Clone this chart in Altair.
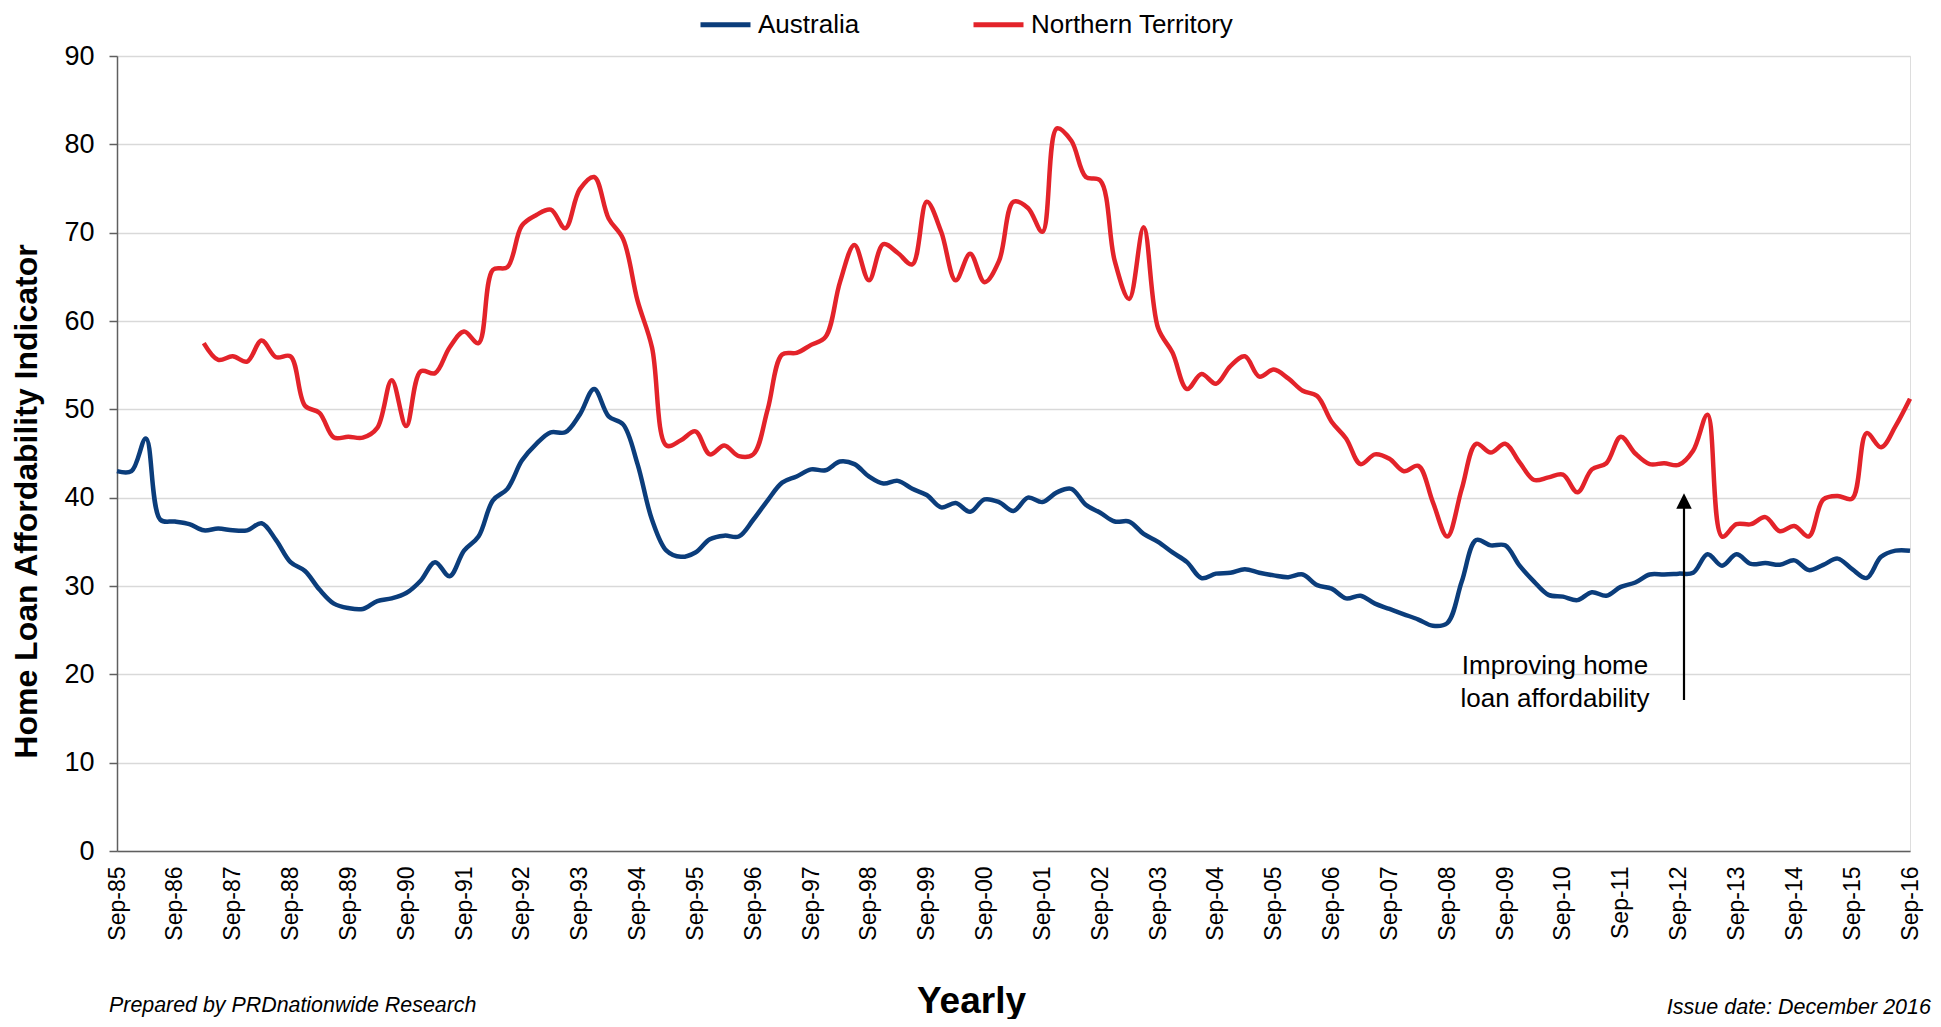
import altair as alt
import pandas as pd

# ---------------- data ----------------
series_names = ["Australia", "Northern Territory"]
series_colors = ["#0B3D7B", "#E3232A"]

tick_labels = ["Sep-85", "Sep-86", "Sep-87", "Sep-88", "Sep-89", "Sep-90", "Sep-91", "Sep-92",
               "Sep-93", "Sep-94", "Sep-95", "Sep-96", "Sep-97", "Sep-98", "Sep-99", "Sep-00",
               "Sep-01", "Sep-02", "Sep-03", "Sep-04", "Sep-05", "Sep-06", "Sep-07", "Sep-08",
               "Sep-09", "Sep-10", "Sep-11", "Sep-12", "Sep-13", "Sep-14", "Sep-15", "Sep-16"]

# quarterly values, Sep-85 .. Sep-16
australia = [
    43.0, 43.0, 46.7, 37.5, 37.3, 37.0, 36.3, 36.5, 36.3, 36.3,
    37.1, 35.2, 32.7, 31.7, 29.6, 28.0, 27.5, 27.4, 28.3, 28.6,
    29.2, 30.6, 32.7, 31.1, 34.0, 35.6, 39.7, 41.0, 44.2, 46.1,
    47.4, 47.4, 49.4, 52.3, 49.2, 48.3, 43.8, 37.5, 34.0, 33.3,
    33.8, 35.3, 35.7, 35.6, 37.5, 39.7, 41.7, 42.4, 43.2, 43.1,
    44.1, 43.8, 42.4, 41.6, 41.9, 41.0, 40.3, 38.9, 39.4, 38.4,
    39.8, 39.5, 38.5, 40.0, 39.5, 40.6, 41.0, 39.2, 38.3, 37.3,
    37.3, 35.9, 35.0, 33.8, 32.7, 30.9, 31.4, 31.5, 31.9, 31.5,
    31.2, 31.0, 31.3, 30.1, 29.7, 28.6, 28.9, 28.0, 27.4, 26.8,
    26.2, 25.5, 25.8, 30.5, 35.2, 34.6, 34.6, 32.3, 30.5, 29.0,
    28.8, 28.4, 29.3, 28.9, 29.9, 30.4, 31.3, 31.3, 31.4, 31.5,
    33.6, 32.3, 33.6, 32.5, 32.6, 32.4, 32.9, 31.8, 32.4, 33.1,
    31.9, 30.9, 33.3, 34.0, 34.0,
]

# quarterly values, Mar-87 .. Sep-16
nt_start_quarter = 6
northern_territory = [
    57.5, 55.6, 56.0, 55.4, 57.8, 55.9, 56.0, 50.4, 49.6, 46.8,
    46.9, 46.8, 47.9, 53.3, 48.1, 54.3, 54.1, 57.0, 58.8, 57.5,
    65.8, 66.1, 70.8, 72.0, 72.6, 70.5, 74.9, 76.3, 71.6, 69.3,
    62.3, 57.0, 45.9, 46.5, 47.5, 44.9, 45.9, 44.7, 44.9, 50.0,
    56.2, 56.4, 57.3, 58.2, 64.4, 68.6, 64.6, 68.7, 67.7, 66.4,
    73.5, 70.1, 64.6, 67.6, 64.4, 66.8, 73.5, 72.8, 70.1, 81.8,
    80.4, 76.3, 75.9, 66.8, 62.5, 70.6, 59.2, 56.4, 52.3, 54.0,
    52.9, 54.9, 56.0, 53.7, 54.5, 53.5, 52.1, 51.5, 48.6, 46.7,
    43.8, 44.9, 44.4, 43.0, 43.6, 39.5, 35.6, 41.0, 46.1, 45.1,
    46.1, 44.0, 42.0, 42.3, 42.6, 40.6, 43.2, 43.9, 46.9, 45.0,
    43.8, 43.9, 43.7, 45.3, 49.4, 35.6, 37.0, 37.0, 37.8, 36.2,
    36.8, 35.6, 39.8, 40.2, 39.9, 47.3, 45.7, 48.1, 51.2,
]

y_title = "Home Loan Affordability Indicator"
x_title = "Yearly"
annotation_lines = ["Improving home", "loan affordability"]
footer_left = ["Prepared by PRDnationwide Research", "Source: Real Estate Institute of Australia"]
footer_right = "Issue date: December 2016"

# ---------------- table ----------------
rows = []
for i, v in enumerate(australia):
    rows.append({"q": i, "series": series_names[0], "value": v})
for i, v in enumerate(northern_territory):
    rows.append({"q": i + nt_start_quarter, "series": series_names[1], "value": v})
df = pd.DataFrame(rows)
n_q = len(australia) - 1

FONT = "Liberation Sans"
W, H = 1793, 795
AXIS_COL = "#5F5F5F"

label_expr = "[" + ",".join("'%s'" % t for t in tick_labels) + "][round(datum.value / 4)]"

x_enc = alt.X(
    "q:Q",
    scale=alt.Scale(domain=[0, n_q], nice=False, zero=False),
    axis=alt.Axis(
        values=list(range(0, n_q + 1, 4)),
        labelExpr=label_expr,
        labelAngle=270,
        labelFontSize=23,
        labelPadding=15,
        labelColor="#000000",
        labelFont=FONT,
        ticks=False,
        grid=False,
        domainColor=AXIS_COL,
        domainWidth=1.5,
        title=x_title,
        titleFont=FONT,
        titleFontSize=37,
        titleFontWeight="bold",
        titleColor="#000000",
        titleX=854,
        titleY=161,
        titleAlign="center",
        titleBaseline="alphabetic",
    ),
)

y_enc = alt.Y(
    "value:Q",
    scale=alt.Scale(domain=[0, 90], nice=False, zero=True),
    axis=alt.Axis(
        values=list(range(0, 91, 10)),
        labelFontSize=27,
        labelPadding=15,
        labelColor="#000000",
        labelFont=FONT,
        tickSize=8,
        tickColor=AXIS_COL,
        tickWidth=1.5,
        domainColor=AXIS_COL,
        domainWidth=1.5,
        gridColor="#D9D9D9",
        gridWidth=1.5,
        title=y_title,
        titleFont=FONT,
        titleFontSize=32,
        titleFontWeight="bold",
        titleColor="#000000",
        titleX=-91,
        titleY=445,
        titleAngle=270,
        titleAlign="center",
        titleBaseline="middle",
    ),
)

lines = alt.Chart(df).mark_line(strokeWidth=4.5, interpolate="catmull-rom").encode(
    x=x_enc,
    y=y_enc,
    color=alt.Color(
        "series:N",
        scale=alt.Scale(domain=series_names, range=series_colors),
        legend=alt.Legend(
            orient="none",
            legendX=581,
            legendY=-59,
            direction="horizontal",
            title=None,
            symbolType="stroke",
            symbolStrokeWidth=5,
            symbolSize=2500,
            labelFontSize=26,
            labelFont=FONT,
            labelColor="#000000",
            labelLimit=0,
            labelOffset=5,
            columnPadding=103,
        ),
    ),
    order="q:Q",
)

one = pd.DataFrame({"k": [0]})

arrow_line = alt.Chart(one).mark_rule(color="#000000", strokeWidth=2.2).encode(
    x=alt.value(1567), y=alt.value(644), y2=alt.value(452)
)
arrow_head = alt.Chart(one).mark_point(
    shape="M -1 1 L 0 -1 L 1 1 Z", filled=True, color="#000000", opacity=1, size=240
).encode(x=alt.value(1567), y=alt.value(445))

annotation = alt.Chart(one).mark_text(
    font=FONT, fontSize=26, align="center", baseline="alphabetic", lineHeight=33, color="#000000"
).encode(x=alt.value(1438), y=alt.value(618), text=alt.value(annotation_lines))

foot_l = alt.Chart(one).mark_text(
    font=FONT, fontSize=21.4, fontStyle="italic", align="left", baseline="alphabetic",
    lineHeight=25, color="#000000"
).encode(x=alt.value(-8), y=alt.value(956), text=alt.value(footer_left))

foot_r = alt.Chart(one).mark_text(
    font=FONT, fontSize=21.5, fontStyle="italic", align="right", baseline="alphabetic", color="#000000"
).encode(x=alt.value(1814), y=alt.value(958), text=alt.value(footer_right))

chart = alt.layer(lines, arrow_line, arrow_head, annotation, foot_l, foot_r).properties(
    width=W,
    height=H,
    autosize=alt.AutoSizeParams(type="none"),
    padding={"left": 109, "top": 48, "right": 23, "bottom": 168},
).configure_view(stroke=None).configure(font=FONT)

chart.save("out.html", embed_options={"renderer": "svg", "actions": False})
